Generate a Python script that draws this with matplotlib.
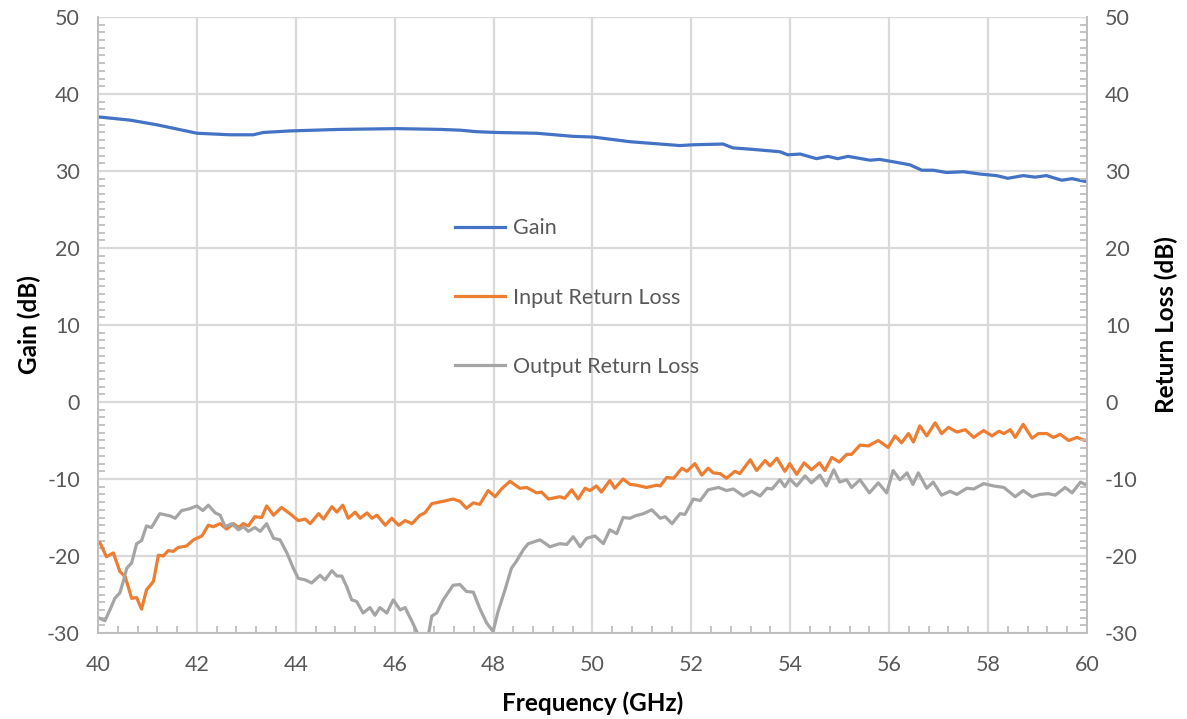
import matplotlib
matplotlib.use("Agg")
import matplotlib.pyplot as plt
from matplotlib.ticker import MultipleLocator

plt.rcParams["axes.unicode_minus"] = False

# Gain curve
gain_f = [40.0, 40.04, 40.65, 41.19, 42.0, 42.67, 43.14, 43.34, 43.88, 44.89, 46.04,
          46.92, 47.32, 47.66, 48.06, 48.87, 49.6, 50.02, 50.76, 51.77, 52.03, 52.64,
          52.84, 53.25, 53.79, 53.95, 54.2, 54.53, 54.76, 54.96, 55.17, 55.61, 55.81,
          56.08, 56.42, 56.66, 56.89, 57.16, 57.5, 57.84, 58.17, 58.4, 58.71, 58.95,
          59.18, 59.49, 59.7, 60.0]
gain_db = [37.0, 37.0, 36.6, 36.0, 34.9, 34.7, 34.7, 35.0, 35.2, 35.4, 35.5,
           35.4, 35.3, 35.1, 35.0, 34.9, 34.5, 34.4, 33.8, 33.3, 33.4, 33.5,
           33.0, 32.8, 32.5, 32.1, 32.2, 31.6, 31.9, 31.6, 31.9, 31.4, 31.5,
           31.2, 30.8, 30.1, 30.1, 29.8, 29.9, 29.6, 29.4, 29.05, 29.4, 29.2,
           29.4, 28.8, 29.0, 28.6]

# Input return loss
irl_f = [40.0, 40.04, 40.17, 40.31, 40.44, 40.55, 40.68, 40.78, 40.88, 40.98, 41.12,
         41.22, 41.32, 41.42, 41.52, 41.62, 41.79, 41.93, 42.1, 42.23, 42.33, 42.47,
         42.6, 42.74, 42.84, 42.94, 43.04, 43.17, 43.31, 43.41, 43.55, 43.71, 43.88,
         44.05, 44.19, 44.29, 44.46, 44.56, 44.73, 44.83, 44.95, 45.06, 45.2, 45.3,
         45.44, 45.54, 45.64, 45.81, 45.94, 46.08, 46.21, 46.35, 46.51, 46.61, 46.75,
         46.98, 47.18, 47.32, 47.45, 47.59, 47.72, 47.89, 48.03, 48.16, 48.33, 48.53,
         48.67, 48.87, 48.97, 49.11, 49.34, 49.44, 49.58, 49.71, 49.85, 49.95, 50.08,
         50.18, 50.35, 50.45, 50.62, 50.76, 50.89, 51.09, 51.3, 51.37, 51.5, 51.64,
         51.81, 51.91, 52.07, 52.21, 52.34, 52.44, 52.58, 52.71, 52.88, 52.98, 53.19,
         53.32, 53.49, 53.59, 53.73, 53.89, 53.99, 54.13, 54.28, 54.43, 54.59, 54.7,
         54.84, 54.99, 55.14, 55.24, 55.41, 55.58, 55.78, 55.98, 56.12, 56.25, 56.39,
         56.49, 56.62, 56.76, 56.93, 57.06, 57.2, 57.37, 57.54, 57.71, 57.91, 58.08,
         58.22, 58.32, 58.45, 58.55, 58.71, 58.89, 59.02, 59.19, 59.32, 59.46, 59.63,
         59.8, 59.96, 60.0]
irl_db = [-18.2, -18.3, -20.1, -19.6, -22.0, -22.7, -25.5, -25.4, -26.9, -24.4, -23.3,
          -19.9, -20.0, -19.3, -19.4, -18.9, -18.7, -17.9, -17.4, -16.0, -16.2, -15.8,
          -16.5, -15.8, -16.3, -15.8, -16.1, -14.9, -15.0, -13.5, -14.7, -13.7, -14.5,
          -15.4, -15.2, -15.8, -14.5, -15.2, -13.6, -14.3, -13.4, -15.1, -14.3, -15.1,
          -14.4, -15.1, -14.7, -16.0, -15.1, -16.0, -15.4, -15.8, -14.7, -14.4, -13.2,
          -12.9, -12.6, -12.9, -13.8, -13.1, -13.3, -11.5, -12.3, -11.3, -10.3, -11.2,
          -11.1, -11.8, -11.7, -12.6, -12.3, -12.5, -11.4, -12.6, -11.2, -11.5, -10.9,
          -11.7, -10.2, -11.2, -10.0, -10.7, -10.8, -11.1, -10.8, -10.9, -9.8, -9.9,
          -8.6, -9.0, -8.0, -9.5, -8.6, -9.2, -9.3, -9.9, -9.0, -9.3, -7.5,
          -8.9, -7.6, -8.3, -7.3, -9.0, -8.0, -9.4, -7.9, -8.8, -7.9, -8.9,
          -7.2, -7.8, -6.8, -6.8, -5.6, -5.7, -5.0, -5.9, -4.4, -5.3, -4.1,
          -5.2, -3.1, -4.4, -2.7, -4.1, -3.3, -3.9, -3.6, -4.6, -3.7, -4.4,
          -3.8, -4.1, -3.6, -4.6, -2.9, -4.7, -4.1, -4.1, -4.6, -4.2, -5.0,
          -4.6, -5.0, -4.9]

# Output return loss
orl_f = [40.0, 40.04, 40.14, 40.24, 40.34, 40.44, 40.51, 40.58, 40.68, 40.78, 40.88,
         40.98, 41.08, 41.25, 41.46, 41.56, 41.69, 41.83, 42.0, 42.12, 42.23, 42.37,
         42.47, 42.57, 42.71, 42.84, 42.94, 43.04, 43.17, 43.28, 43.41, 43.55, 43.68,
         43.82, 43.95, 44.05, 44.19, 44.32, 44.49, 44.59, 44.73, 44.83, 44.93, 45.03,
         45.13, 45.23, 45.36, 45.5, 45.6, 45.7, 45.84, 45.97, 46.11, 46.21, 46.35,
         46.48, 46.58, 46.68, 46.75, 46.85, 46.98, 47.18, 47.32, 47.45, 47.59, 47.72,
         47.86, 47.99, 48.09, 48.23, 48.36, 48.46, 48.6, 48.7, 48.94, 49.14, 49.34,
         49.48, 49.61, 49.75, 49.88, 50.05, 50.22, 50.35, 50.49, 50.62, 50.76, 50.86,
         51.03, 51.2, 51.37, 51.47, 51.61, 51.77, 51.87, 52.04, 52.18, 52.34, 52.55,
         52.71, 52.85, 53.05, 53.22, 53.39, 53.53, 53.63, 53.79, 53.89, 53.99, 54.13,
         54.3, 54.43, 54.6, 54.73, 54.88, 55.0, 55.14, 55.24, 55.41, 55.6, 55.78,
         55.95, 56.08, 56.22, 56.36, 56.48, 56.59, 56.76, 56.89, 57.06, 57.23, 57.37,
         57.57, 57.71, 57.91, 58.11, 58.32, 58.55, 58.71, 58.89, 59.05, 59.22, 59.36,
         59.56, 59.7, 59.87, 59.96, 60.0]
orl_db = [-28.0, -28.1, -28.4, -27.0, -25.5, -24.8, -23.3, -21.6, -20.9, -18.4, -18.0,
          -16.1, -16.3, -14.5, -14.8, -15.1, -14.1, -13.9, -13.5, -14.1, -13.4, -14.4,
          -14.7, -16.2, -15.8, -16.6, -16.2, -16.8, -16.3, -16.8, -15.8, -17.7, -17.9,
          -19.6, -21.6, -22.9, -23.1, -23.5, -22.5, -23.1, -21.9, -22.6, -22.6, -24.0,
          -25.7, -25.9, -27.4, -26.7, -27.7, -26.7, -27.4, -25.7, -27.0, -26.7, -28.5,
          -30.3, -31.0, -30.3, -27.8, -27.4, -25.7, -23.8, -23.7, -24.6, -24.7, -26.8,
          -28.7, -29.8, -27.2, -24.4, -21.6, -20.7, -19.2, -18.4, -17.9, -18.8, -18.4,
          -18.5, -17.5, -18.8, -17.7, -17.4, -18.4, -16.6, -17.1, -15.0, -15.1, -14.8,
          -14.5, -14.0, -15.1, -14.9, -15.8, -14.5, -14.6, -12.6, -12.8, -11.4, -11.1,
          -11.5, -11.3, -12.2, -11.6, -12.2, -11.2, -11.3, -10.1, -11.0, -10.0, -10.9,
          -9.6, -10.5, -9.5, -10.9, -8.8, -10.4, -10.1, -11.1, -10.1, -11.8, -10.5,
          -11.8, -8.9, -10.1, -9.2, -10.7, -9.2, -11.2, -10.4, -12.1, -11.6, -12.0,
          -11.2, -11.3, -10.6, -10.9, -11.1, -12.3, -11.5, -12.3, -12.0, -11.9, -12.1,
          -11.1, -11.8, -10.4, -10.7, -10.6]

x_ticks = list(range(40, 61, 2))
y_ticks = list(range(-30, 51, 10))

font = "Lato"
tick_col = "#595959"
grid_col = "#D9D9D9"

fig = plt.figure(figsize=(11.87, 7.19), dpi=100)
ax = fig.add_axes([0.0826, 0.1196, 0.8331, 0.8568])
ax2 = ax.twinx()

ax.plot(gain_f, gain_db, color="#4472C4", lw=2.3, label="Gain", zorder=3)
ax.plot(irl_f, irl_db, color="#ED7D31", lw=2.3, label="Input Return Loss", zorder=3)
ax.plot(orl_f, orl_db, color="#A5A5A5", lw=2.3, label="Output Return Loss", zorder=3)

for a in (ax, ax2):
    a.set_xlim(40, 60)
    a.set_ylim(-30, 50)
    a.set_yticks(y_ticks)
    a.yaxis.set_minor_locator(MultipleLocator(1))
    for s in a.spines.values():
        s.set_color("#BFBFBF")
        s.set_linewidth(1.3)
    a.spines["top"].set_visible(False)

ax.set_xticks(x_ticks)
ax.xaxis.set_minor_locator(MultipleLocator(0.4))
ax.grid(True, which="major", color=grid_col, lw=1.6, zorder=0)
ax.set_axisbelow(True)
ax.axhline(50, color=grid_col, lw=1.6, zorder=0)

ax.tick_params(axis="y", which="major", length=0, pad=13, labelsize=15.5, labelcolor=tick_col)
ax.tick_params(axis="x", which="major", length=0, pad=16, labelsize=15.5, labelcolor=tick_col)
ax.tick_params(axis="both", which="minor", direction="in", length=5, width=1.3, color="#BFBFBF")
ax2.tick_params(axis="y", which="major", length=0, pad=13, labelsize=15.5, labelcolor=tick_col)
ax2.tick_params(axis="y", which="minor", direction="in", length=5, width=1.3, color="#BFBFBF")

for lab in ax.get_xticklabels() + ax.get_yticklabels() + ax2.get_yticklabels():
    lab.set_fontfamily(font)

ax.set_xlabel("Frequency (GHz)", fontsize=17.5, fontweight="bold", family=font, labelpad=12)
ax.set_ylabel("Gain (dB)", fontsize=17.5, fontweight="bold", family=font, labelpad=4)
ax2.set_ylabel("Return Loss (dB)", fontsize=17.5, fontweight="bold", family=font, labelpad=12)

leg = ax.legend(loc="upper left", bbox_to_anchor=(0.341, 0.7045), frameon=False,
                labelspacing=2.29, handlelength=2.33, handletextpad=0.37,
                prop={"family": font, "size": 15.5})
for t in leg.get_texts():
    t.set_color(tick_col)

fig.savefig("out.png", dpi=100)
